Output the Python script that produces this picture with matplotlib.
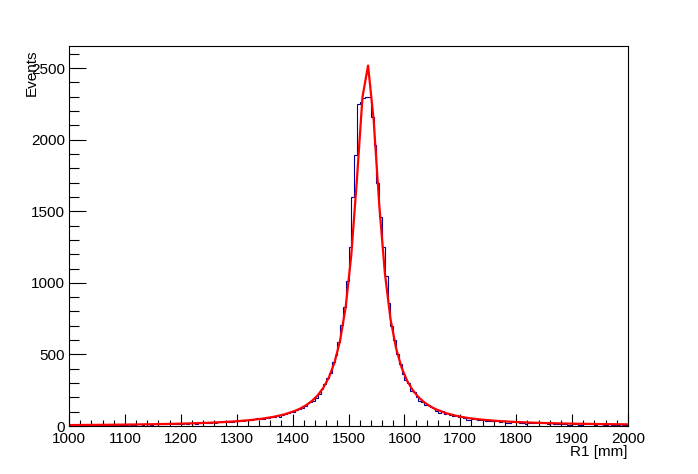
import numpy as np
import matplotlib
matplotlib.use("Agg")
import matplotlib.pyplot as plt
from matplotlib.ticker import MultipleLocator

# ---- data ----
x_min, x_max, n_bins = 1000.0, 2000.0, 200
counts = [
    7, 5, 8, 6, 9, 7, 6, 8, 10, 7,
    8, 9, 7, 10, 8, 6, 9, 11, 8, 10,
    9, 11, 10, 8, 12, 11, 9, 13, 12, 10,
    13, 12, 15, 11, 14, 16, 13, 15, 17, 14,
    16, 18, 15, 19, 20, 17, 22, 19, 21, 24,
    22, 25, 23, 27, 26, 30, 28, 31, 29, 34,
    33, 37, 35, 39, 42, 40, 47, 58, 49, 52,
    54, 57, 62, 60, 71, 66, 78, 82, 88, 97,
    101, 112, 120, 128, 140, 162, 168, 175, 198, 221,
    262, 290, 335, 372, 445, 498, 590, 705, 830, 1010,
    1250, 1600, 1892, 2253, 2262, 2290, 2300, 2296, 2160, 1960,
    1700, 1460, 1250, 1050, 860, 700, 600, 505, 430, 365,
    318, 300, 247, 236, 205, 172, 168, 150, 148, 130,
    125, 108, 94, 102, 86, 88, 76, 72, 74, 62,
    64, 58, 40, 45, 50, 48, 44, 43, 41, 37,
    38, 36, 33, 35, 30, 32, 24, 22, 28, 26,
    25, 24, 22, 17, 21, 23, 19, 20, 18, 21,
    19, 16, 18, 17, 15, 16, 14, 12, 9, 10,
    13, 14, 8, 9, 12, 13, 11, 12, 10, 13,
    11, 9, 10, 12, 8, 10, 9, 11, 8, 9,
]

fit_x = [1000, 1025, 1050, 1075, 1100, 1125, 1150, 1175, 1200, 1225,
         1250, 1275, 1300, 1325, 1345, 1365, 1385, 1405, 1415, 1425,
         1435, 1445, 1455, 1465, 1475, 1485, 1495, 1505, 1515, 1525,
         1535, 1545, 1555, 1565, 1575, 1585, 1595, 1605, 1615, 1625,
         1635, 1645, 1655, 1675, 1695, 1715, 1735, 1755, 1775, 1800,
         1825, 1850, 1875, 1900, 1925, 1950, 1975, 2000]
fit_y = [6.5, 7.1, 7.9, 8.7, 9.8, 11.0, 12.5, 14.3, 16.5, 19.2,
         22.7, 27.3, 33.3, 41.7, 50.8, 63.3, 80.8, 106.8, 124.7, 147.3,
         176.5, 215.1, 267.3, 339.5, 443.6, 597.6, 832.8, 1195, 1719, 2298,
         2518, 2138, 1546, 1070, 751, 545, 408, 315, 250, 202,
         167, 140, 119, 89, 69, 55, 46, 39, 33, 28,
         24, 21, 18.5, 16.5, 15, 13.5, 12.5, 11.5]

x_ticks_major = [1000, 1100, 1200, 1300, 1400, 1500, 1600, 1700, 1800, 1900, 2000]
y_ticks_major = [0, 500, 1000, 1500, 2000, 2500]
x_title = "R1 [mm]"
y_title = "Events"

# ---- figure ----
plt.rcParams['font.family'] = ['Liberation Sans', 'DejaVu Sans']
fig = plt.figure(figsize=(6.98, 4.74), dpi=100)
ax = fig.add_axes([69/698, 1-426/474, (628-69)/698, (426-46)/474])

edges = np.linspace(x_min, x_max, n_bins + 1)
ax.stairs(counts, edges, color='#000099', linewidth=0.8)
ax.plot(fit_x, fit_y, color='#ff0000', linewidth=1.6)

ax.set_xlim(x_min, x_max)
ax.set_ylim(0, 2655)

ax.set_xticks(x_ticks_major)
ax.set_yticks(y_ticks_major)
ax.xaxis.set_minor_locator(MultipleLocator(20))
ax.yaxis.set_minor_locator(MultipleLocator(100))
ax.tick_params(axis='both', which='both', direction='in', top=False, right=False,
               labelsize=11, width=0.8, color='black')
ax.tick_params(axis='x', which='major', length=9, pad=4)
ax.tick_params(axis='x', which='minor', length=4.5)
ax.tick_params(axis='y', which='major', length=12.5, pad=3)
ax.tick_params(axis='y', which='minor', length=7)
for s in ax.spines.values():
    s.set_linewidth(0.8)

fig.text(628/698, 1-452/474, x_title, ha='right', va='center', fontsize=11)
fig.text(32/698, 1-50/474, y_title, ha='center', va='top', rotation=90, fontsize=11)

fig.savefig("out.png", dpi=100)
